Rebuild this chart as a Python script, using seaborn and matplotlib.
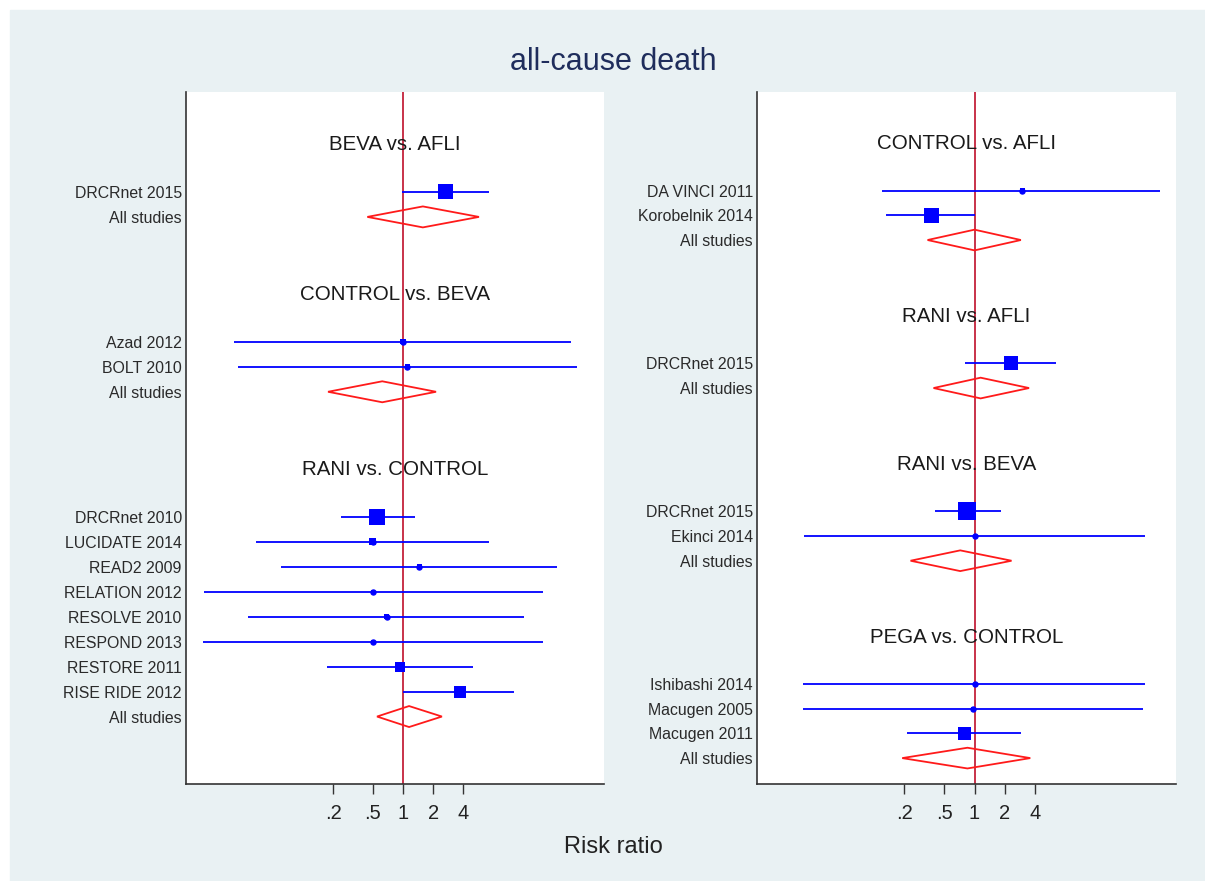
import pandas as pd
import matplotlib
matplotlib.use("Agg")
import matplotlib.pyplot as plt
import seaborn as sns
from matplotlib.patches import Polygon, Rectangle
from matplotlib.ticker import NullLocator
from matplotlib.transforms import blended_transform_factory

sns.set_theme(style="white")
plt.rcParams["font.family"] = ["Liberation Sans", "DejaVu Sans"]

# left panel
left_groups = ["BEVA vs. AFLI", "CONTROL vs. BEVA", "RANI vs. CONTROL"]
left_group_of = [0, 1, 1, 2, 2, 2, 2, 2, 2, 2, 2]
left_studies = ["DRCRnet 2015", "Azad 2012", "BOLT 2010", "DRCRnet 2010",
                "LUCIDATE 2014", "READ2 2009", "RELATION 2012",
                "RESOLVE 2010", "RESPOND 2013", "RESTORE 2011",
                "RISE RIDE 2012"]
left_rr = [2.69, 1.0, 1.1, 0.55, 0.5, 1.45, 0.5, 0.69, 0.5, 0.93, 3.7]
left_lo = [0.98, 0.0204, 0.0224, 0.24, 0.034, 0.06, 0.0102, 0.028, 0.01,
           0.174, 1.0]
left_hi = [7.2, 47.9, 55, 1.32, 7.2, 34.7, 25, 16.2, 25, 5.0, 12.9]
left_weight = [69, 8, 8, 79, 15, 8, 5, 8, 5, 31, 44]
left_pool_rr = [1.58, 0.62, 1.15]
left_pool_lo = [0.44, 0.178, 0.55]
left_pool_hi = [5.75, 2.14, 2.45]

# right panel
right_groups = ["CONTROL vs. AFLI", "RANI vs. AFLI", "RANI vs. BEVA",
                "PEGA vs. CONTROL"]
right_group_of = [0, 0, 1, 2, 2, 3, 3, 3]
right_studies = ["DA VINCI 2011", "Korobelnik 2014", "DRCRnet 2015",
                 "DRCRnet 2015", "Ekinci 2014", "Ishibashi 2014",
                 "Macugen 2005", "Macugen 2011"]
right_rr = [3.0, 0.37, 2.3, 0.85, 1.0, 1.0, 0.96, 0.79]
right_lo = [0.12, 0.13, 0.81, 0.40, 0.02, 0.0195, 0.0195, 0.21]
right_hi = [71, 1.0, 6.5, 1.82, 50, 50, 48, 2.9]
right_weight = [8, 69, 60, 100, 3, 3, 3, 52]
right_pool_rr = [1.0, 1.15, 0.72, 0.85]
right_pool_lo = [0.34, 0.39, 0.23, 0.19]
right_pool_hi = [2.9, 3.5, 2.34, 3.6]

tick_vals = [0.2, 0.5, 1, 2, 4]
tick_text = [".2", ".5", "1", "2", "4"]

BLUE = "#0000ff"
RED = "#ff1a1a"


def layout(groups, group_of, studies, rr, lo, hi, weight):
    """Assign a row to every title, study and pooled line."""
    title_rows, pool_rows, study_rows = [], [], []
    r = 0
    for g in range(len(groups)):
        title_rows.append(r)
        r += 2
        for gi in group_of:
            if gi == g:
                study_rows.append(r)
                r += 1
        pool_rows.append(r)
        r += 3
    df = pd.DataFrame({"study": studies, "rr": rr, "lo": lo, "hi": hi,
                       "weight": weight, "row": study_rows})
    return df, title_rows, pool_rows


def forest(ax, groups, group_of, studies, rr, lo, hi, weight,
           pool_rr, pool_lo, pool_hi, ybottom):
    df, title_rows, pool_rows = layout(groups, group_of, studies,
                                       rr, lo, hi, weight)
    ax.set_xscale("log")
    ax.axvline(1, color="#c8324a", lw=1.4, zorder=1)
    ax.hlines(df["row"], df["lo"], df["hi"], color=BLUE, lw=1.3, zorder=2)
    sns.scatterplot(data=df, x="rr", y="row", size="weight",
                    sizes=(0, 168), size_norm=(0, 100), marker="s",
                    color=BLUE, edgecolor="none", linewidth=0,
                    legend=False, ax=ax, zorder=3)
    ax.plot(df["rr"], df["row"], "o", ms=3.6, color=BLUE, zorder=4)

    for p, q, s, row in zip(pool_rr, pool_lo, pool_hi, pool_rows):
        diamond = Polygon([(q, row), (p, row - 0.42), (s, row),
                           (p, row + 0.42)], closed=True, fill=False,
                          edgecolor=RED, lw=1.3, zorder=3)
        ax.add_patch(diamond)

    trans = blended_transform_factory(ax.transAxes, ax.transData)
    for name, row in zip(groups, title_rows):
        ax.text(0.5, row + 0.1, name, transform=trans, ha="center",
                va="center", fontsize=14.8, color="#1a1a1a")

    ax.set_yticks(list(df["row"]) + pool_rows)
    ax.set_yticklabels(list(df["study"]) + ["All studies"] * len(pool_rows),
                       fontsize=11.4, color="#2a2a2a")
    ax.set_ylim(ybottom, -2)
    ax.set_xlim(10 ** -2.17, 10 ** 2.01)
    ax.set_xticks(tick_vals)
    ax.set_xticklabels(tick_text, fontsize=14.5, color="#222222")
    ax.xaxis.set_minor_locator(NullLocator())
    ax.tick_params(axis="x", direction="out", length=7.5, width=1,
                   color="#333333", bottom=True, pad=7)
    ax.tick_params(axis="y", length=0, pad=3)
    ax.set_xlabel("")
    ax.set_ylabel("")
    for side in ["top", "right"]:
        ax.spines[side].set_visible(False)
    for side in ["left", "bottom"]:
        ax.spines[side].set_color("#333333")
        ax.spines[side].set_linewidth(1.2)
    ax.set_facecolor("white")


fig = plt.figure(figsize=(12.05, 8.81), dpi=100)
fig.patch.set_facecolor("white")
fig.add_artist(Rectangle((10 / 1205, 0), 1, 1 - 10 / 881,
                         transform=fig.transFigure, color="#e9f1f3",
                         zorder=-10))

ax1 = fig.add_axes([186 / 1205, 1 - 784 / 881, 418 / 1205, 692 / 881])
ax2 = fig.add_axes([757 / 1205, 1 - 784 / 881, 419 / 1205, 692 / 881])

forest(ax1, left_groups, left_group_of, left_studies, left_rr, left_lo,
       left_hi, left_weight, left_pool_rr, left_pool_lo, left_pool_hi, 25.7)
forest(ax2, right_groups, right_group_of, right_studies, right_rr, right_lo,
       right_hi, right_weight, right_pool_rr, right_pool_lo, right_pool_hi,
       26.05)

fig.text(613 / 1205, 1 - 62 / 881, "all-cause death", fontsize=22,
         color="#1f2d5c", ha="center", va="center")
fig.text(613 / 1205, 1 - 847 / 881, "Risk ratio", fontsize=17,
         color="#222222", ha="center", va="center")

fig.savefig("out.png", dpi=100)
